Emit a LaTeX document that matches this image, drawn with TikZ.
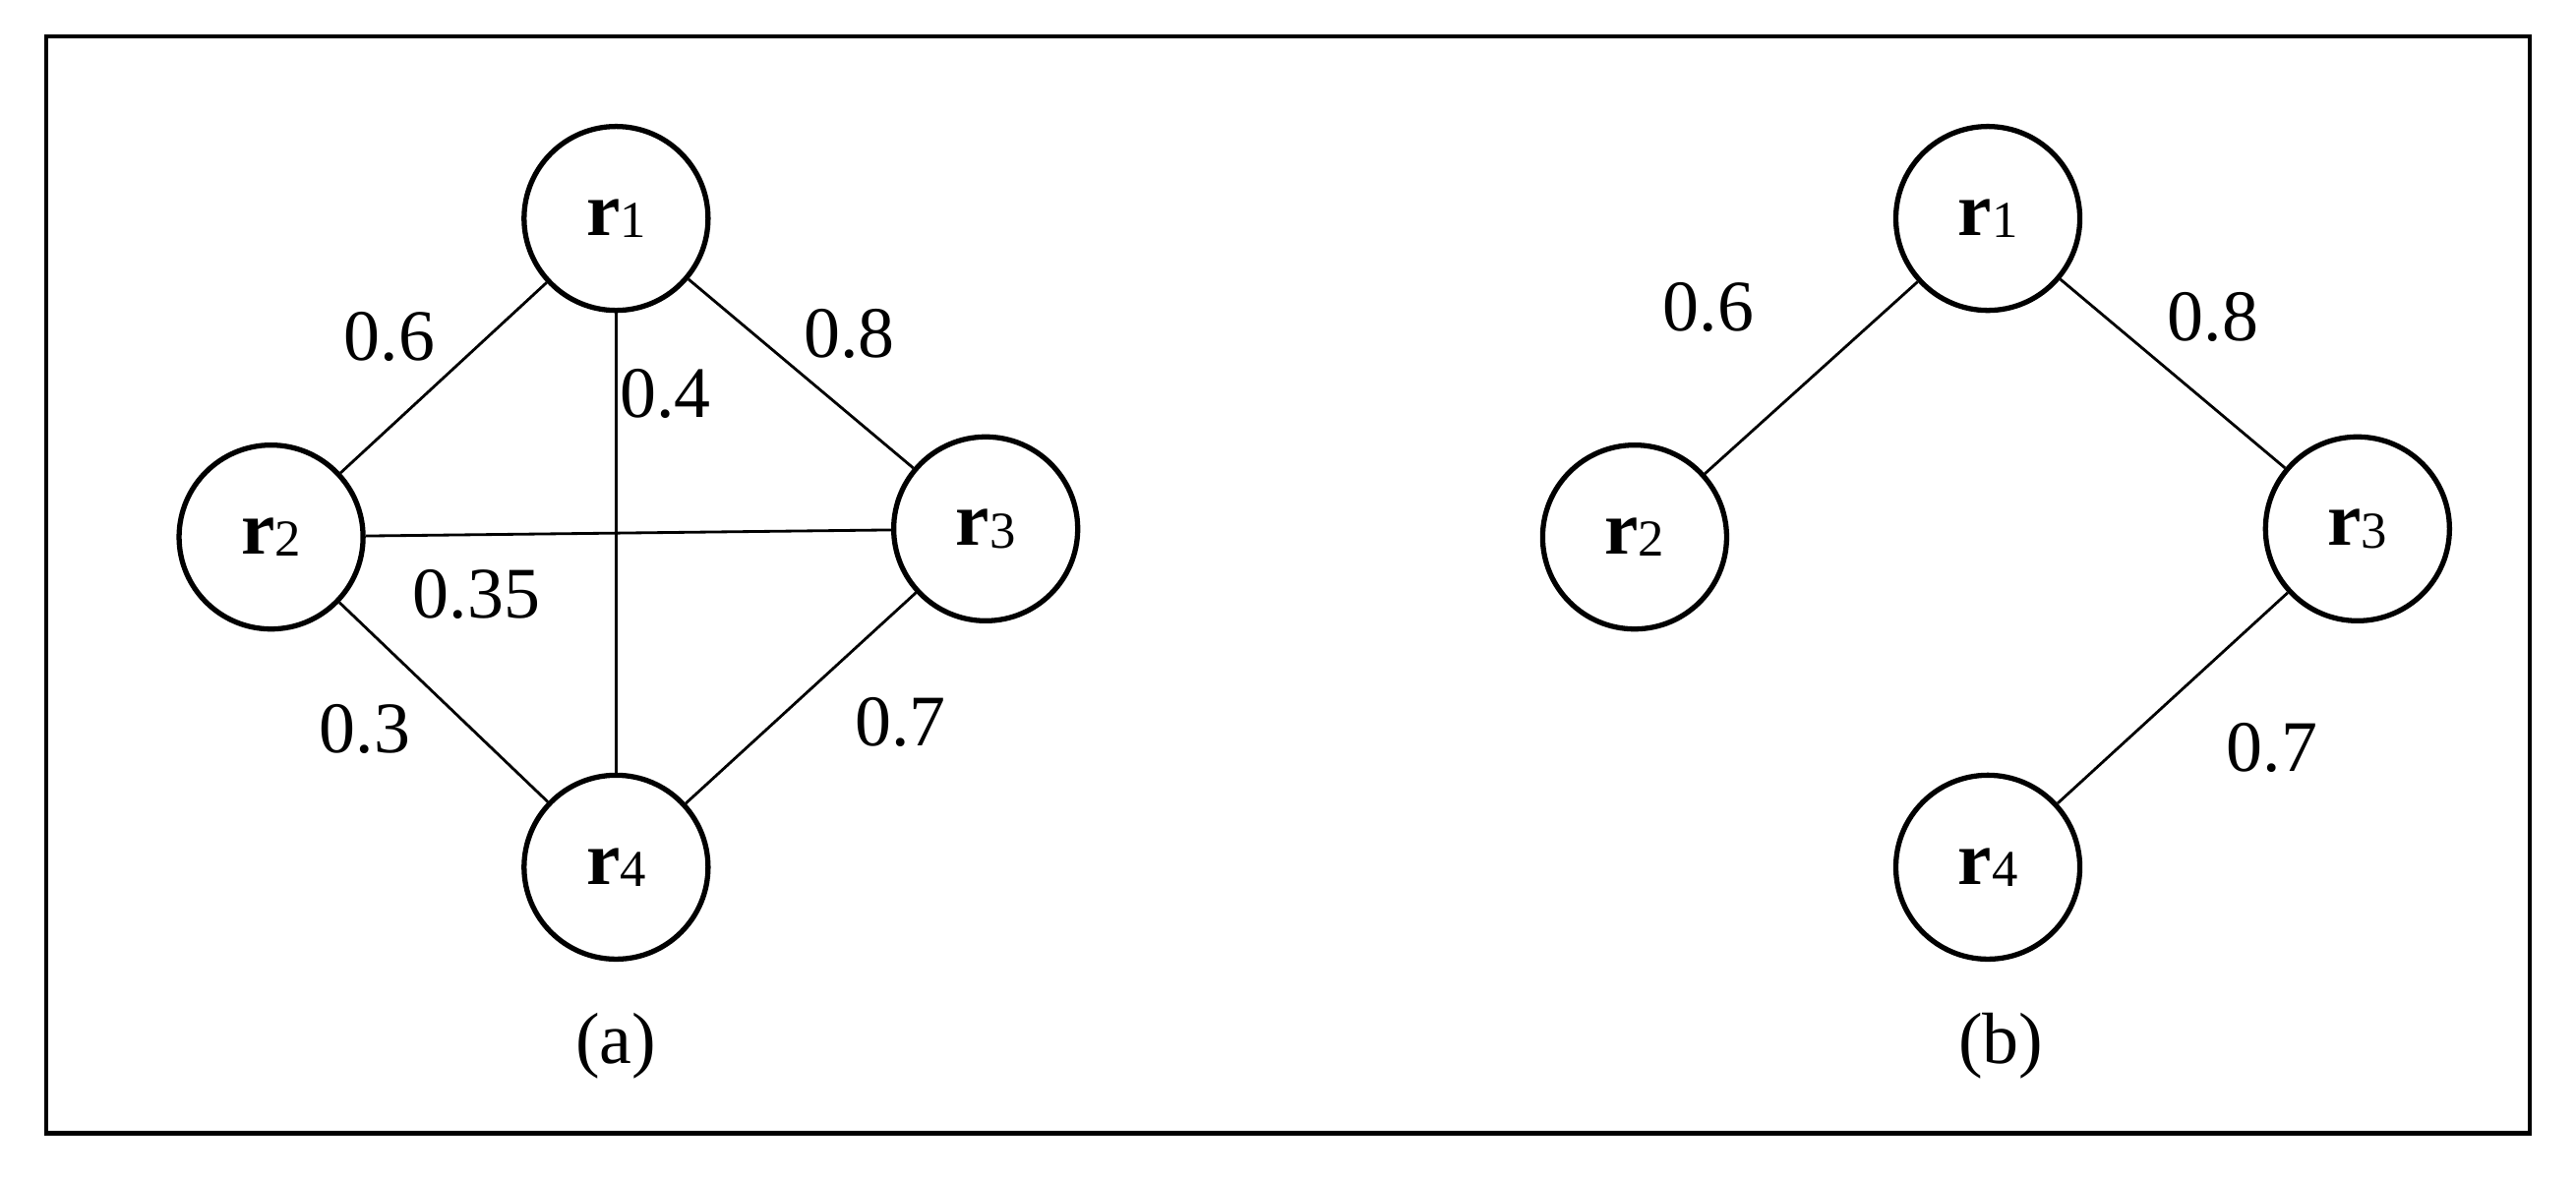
\documentclass[tikz,border=0pt]{standalone}
\usepackage{fontspec}
\setmainfont{Liberation Serif}
\begin{document}
\begin{tikzpicture}[x=0.0167cm,y=-0.0167cm,
  rn/.style={circle,draw,line width=1.5pt,minimum size=112*0.0167cm,inner sep=0pt,font=\fontsize{22}{26}\selectfont},
  lab/.style={font=\fontsize{21}{25}\selectfont},
  e/.style={line width=0.8pt}]
\useasboundingbox (0,0) rectangle (1568,717);
\draw[line width=1.2pt] (28,22) rectangle (1540,690);
\newcommand{\rr}[1]{\textbf{r}{\fontsize{15}{18}\selectfont\raisebox{-0.1ex}{#1}}}
\node[rn] (a1) at (375,133) {\rr1};
\node[rn] (a2) at (165,327) {\rr2};
\node[rn] (a3) at (600,322) {\rr3};
\node[rn] (a4) at (375,528) {\rr4};
\draw[e] (a1)--(a2); \draw[e] (a1)--(a3); \draw[e] (a1)--(a4);
\draw[e] (a2)--(a3); \draw[e] (a2)--(a4); \draw[e] (a3)--(a4);
\node[lab] (l1) at (237,205) {0.6};
\node[lab] (l2) at (405,240) {0.4};
\node[lab] (l3) at (517,203) {0.8};
\node[lab] (l4) at (290,362) {0.35};
\node[lab] (l5) at (222,444) {0.3};
\node[lab] (l6) at (548,440) {0.7};
\node[lab] (ca) at (375,637) {(a)};
\node[rn] (b1) at (1210,133) {\rr1};
\node[rn] (b2) at (995,327) {\rr2};
\node[rn] (b3) at (1435,322) {\rr3};
\node[rn] (b4) at (1210,528) {\rr4};
\draw[e] (b1)--(b2); \draw[e] (b1)--(b3); \draw[e] (b3)--(b4);
\node[lab] (m1) at (1040,187) {0.6};
\node[lab] (m2) at (1347,193) {0.8};
\node[lab] (m3) at (1383,455) {0.7};
\node[lab] (cb) at (1218,637) {(b)};
\end{tikzpicture}
\end{document}
